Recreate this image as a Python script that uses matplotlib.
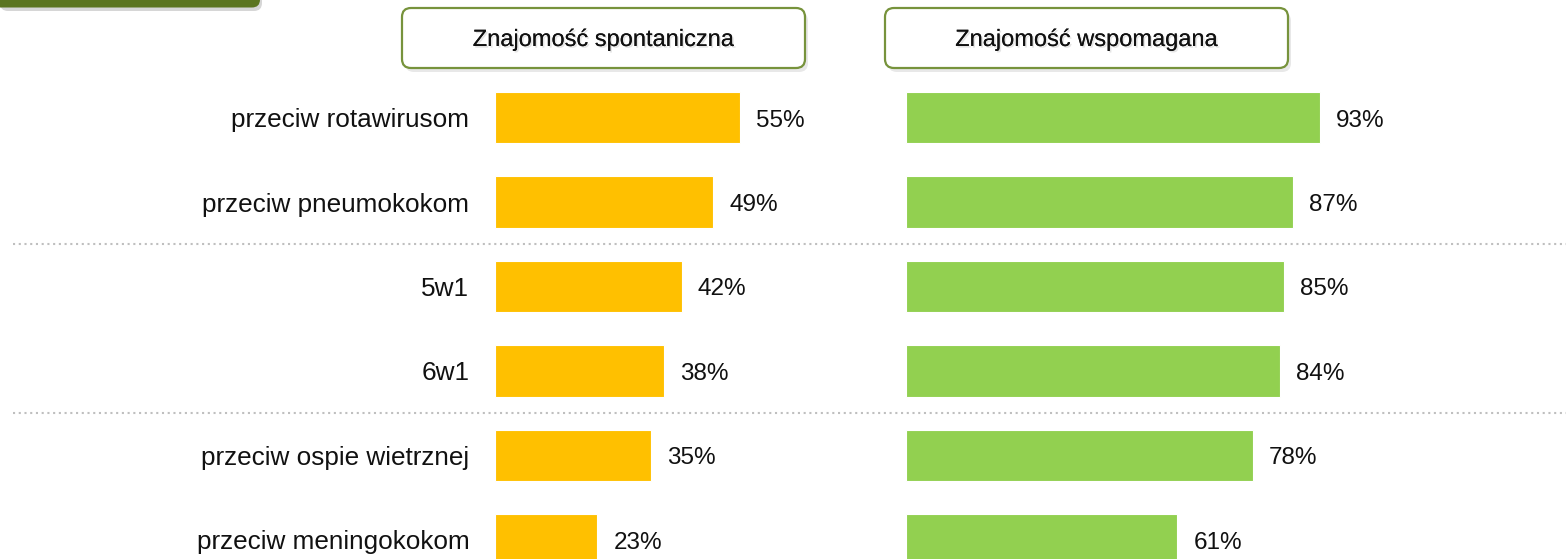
import matplotlib
matplotlib.use("Agg")
import matplotlib.pyplot as plt
from matplotlib.patches import FancyBboxPatch
import matplotlib.patheffects as pe

plt.rcParams['font.family'] = ['Liberation Sans', 'DejaVu Sans']

categories = ["przeciw rotawirusom", "przeciw pneumokokom", "5w1", "6w1",
              "przeciw ospie wietrznej", "przeciw meningokokom"]
spontaneous = [55, 49, 42, 38, 35, 23]
aided = [93, 87, 85, 84, 78, 61]
panel_titles = ["Znajomość spontaniczna", "Znajomość wspomagana"]
separators = [1.5, 3.5]

W, H = 1566, 559
fig = plt.figure(figsize=(W / 100, H / 100), dpi=100)

# y mapping: row 0 centre at 117.7 px, row pitch 84.4 px
pitch = 84.4
y0 = 117.7
ytop = -y0 / pitch
ybot = (H - y0) / pitch
px_per_pct = 4.45

YELLOW = "#FFC000"
GREEN = "#92D050"
OLIVE = "#77933C"

# background axes for separators
bg = fig.add_axes([0, 0, 1, 1])
bg.set_xlim(0, W)
bg.set_ylim(ybot, ytop)
bg.axis("off")
for s in separators:
    bg.hlines(s, 13, W, colors="#BFBFBF", linestyles=(0, (1, 1.75)), linewidth=1.5)

def panel(left_px, width_pct, values, color, show_labels):
    width_px = width_pct * px_per_pct
    ax = fig.add_axes([left_px / W, 0, width_px / W, 1])
    ax.set_xlim(0, width_pct)
    ax.set_ylim(ybot, ytop)
    ypos = list(range(len(categories)))
    ax.barh(ypos, values, height=0.61, color=color, edgecolor="white",
            linewidth=0.8)
    for y, v in zip(ypos, values):
        ax.annotate(f"{v}%", (v, y), xytext=(11.5, -6.4), textcoords="offset points",
                    ha="left", va="baseline", fontsize=17.5, color="#111111")
    for sp in ax.spines.values():
        sp.set_visible(False)
    ax.set_xticks([])
    ax.patch.set_alpha(0)
    if show_labels:
        ax.set_yticks(ypos)
        ax.set_yticklabels(categories, fontsize=18.8, color="#111111")
        ax.tick_params(axis="y", length=0, pad=18.5)
    else:
        ax.set_yticks([])
    return ax

panel(495, 80, spontaneous, YELLOW, True)
panel(906, 100, aided, GREEN, False)

# header boxes
boxes = [(402, 805), (885, 1288)]
for (x1, x2), title in zip(boxes, panel_titles):
    yb = H - 68
    yt = H - 8
    shadow = FancyBboxPatch((x1 + 3, yb - 4), x2 - x1, yt - yb,
                            boxstyle="round,pad=0,rounding_size=9",
                            transform=None, facecolor="#D9D9D9", edgecolor="none",
                            alpha=0.6, zorder=5)
    fig.patches.append(shadow)
    box = FancyBboxPatch((x1, yb), x2 - x1, yt - yb,
                         boxstyle="round,pad=0,rounding_size=9",
                         transform=None, facecolor="white", edgecolor=OLIVE,
                         linewidth=1.6, zorder=6)
    fig.patches.append(box)
    fig.text(((x1 + x2) / 2) / W, (H - 40) / H, title, ha="center", va="center",
             fontsize=17, color="#111111", zorder=7,
             path_effects=[pe.withSimplePatchShadow(offset=(1.2, -1.2),
                                                   shadow_rgbFace="#999999", alpha=0.25),
                           pe.Normal()])

# top-left banner
bshadow = FancyBboxPatch((0, H - 11), 262, 40, boxstyle="round,pad=0,rounding_size=8",
                         transform=None, facecolor="#BBBBBB", edgecolor="none",
                         alpha=0.6, zorder=4)
fig.patches.append(bshadow)
banner = FancyBboxPatch((-10, H - 7.5), 270, 40, boxstyle="round,pad=0,rounding_size=8",
                        transform=None, facecolor="#5B7520", edgecolor="none", zorder=5)
fig.patches.append(banner)

fig.savefig("out.png", dpi=100)
